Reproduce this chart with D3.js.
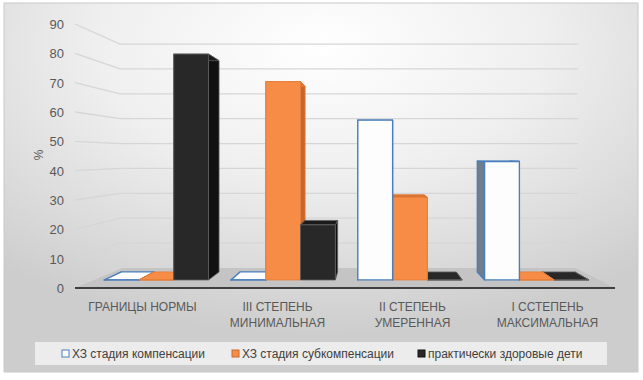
<!DOCTYPE html>
<html>
<head>
<meta charset="utf-8">
<script src="https://cdn.jsdelivr.net/npm/d3@7"></script>
<style>
	body { margin: 0; background: #fff; }
	text { font-family: "Liberation Sans", Arial, sans-serif; }
</style>
</head>
<body>
<svg id="chart" width="643" height="380"></svg>
<script>
// 3d column chart, drawn with a simple one point perspective

let categories = [["ГРАНИЦЫ НОРМЫ"], ["III СТЕПЕНЬ", "МИНИМАЛЬНАЯ"], ["II СТЕПЕНЬ", "УМЕРЕННАЯ"], ["I ССТЕПЕНЬ", "МАКСИМАЛЬНАЯ"]];
let seriesNames = ["ХЗ стадия компенсации", "ХЗ стадия субкомпенсации", "практически здоровые дети"];
let compensated = [0, 0, 58, 43];
let subcompensated = [0, 72, 30, 0];
let healthy = [82, 20, 0, 0];
let yTicks = [0, 10, 20, 30, 40, 50, 60, 70, 80, 90];

let seriesValues = [compensated, subcompensated, healthy];

let colors = [
	{front: "#fdfdfd", side: "#6f7e8f", top: "#eef3f9", stroke: "#4a7ebb"},
	{front: "#f68c46", side: "#c7682b", top: "#dc7431", stroke: "#e27b36"},
	{front: "#282828", side: "#111111", top: "#1b1b1b", stroke: "#5e5e5e"}
];

let svg = d3.select("#chart");

// background
let defs = svg.append("defs");
let grad = defs.append("radialGradient")
	.attr("id", "bg")
	.attr("cx", "50%").attr("cy", "12%")
	.attr("r", "78%");
grad.append("stop").attr("offset", "0%").attr("stop-color", "#ffffff");
grad.append("stop").attr("offset", "45%").attr("stop-color", "#efefef");
grad.append("stop").attr("offset", "100%").attr("stop-color", "#cdcdcd");

svg.append("rect")
	.attr("x", 4).attr("y", 3)
	.attr("width", 634).attr("height", 369)
	.attr("fill", "url(#bg)")
	.attr("stroke", "#c9c9c9");

// perspective
let vpX = 371, vpY = 156;
let x = d3.scaleBand()
	.domain(d3.range(categories.length))
	.range([75, 615]);
let xInner = d3.scaleBand()
	.domain(d3.range(seriesValues.length))
	.range([0, x.bandwidth()])
	.paddingOuter(0.324);
let y = d3.scaleLinear()
	.domain([0, 90])
	.range([288, 24]);
let depth = d3.scaleLinear()
	.domain([0, 1])
	.range([1, 0.848]);

function project(X, v, z){
	let s = depth(z);
	return [vpX + (X - vpX) * s, vpY + (y(v) - vpY) * s];
}

function poly(points){
	return "M" + points.map(p => p.join(",")).join("L") + "Z";
}

// grid on the side and back walls
let grid = svg.append("g");
grid.selectAll("path")
	.data(yTicks.filter(d => d > 0))
	.join("path")
	.attr("d", d => "M" + [project(75, d, 0), project(75, d, 1), project(615, d, 1)].map(p => p.join(",")).join("L"))
	.attr("fill", "none")
	.attr("stroke", "#d6d6d6")
	.attr("stroke-width", 1.3);

// floor
svg.append("path")
	.attr("d", poly([project(75, 0, 0), project(615, 0, 0), project(612, 0, 1), project(78, 0, 1)]))
	.attr("fill", "#c4c4c4");
svg.append("line")
	.attr("x1", 75).attr("x2", 615)
	.attr("y1", y(0)).attr("y2", y(0))
	.attr("stroke", "#3f3f3f")
	.attr("stroke-width", 2);

// bars
let z0 = 0.4, z1 = 0.8;
let bars = [];
categories.forEach((c, i) => {
	seriesValues.forEach((vals, k) => {
		let x0 = x(i) + xInner(k);
		bars.push({x0: x0, x1: x0 + xInner.bandwidth(), v: vals[i], k: k});
	});
});
// far from the vanishing point first
bars.sort((a, b) => Math.abs(b.x0 + b.x1 - 2 * vpX) - Math.abs(a.x0 + a.x1 - 2 * vpX));

let barG = svg.append("g");
bars.forEach(b => {
	let g = barG.append("g");
	let col = colors[b.k];
	let faces = [
		{pts: [project(b.x0, 0, z0), project(b.x0, 0, z1), project(b.x0, b.v, z1), project(b.x0, b.v, z0)], fill: col.side},
		{pts: [project(b.x1, 0, z0), project(b.x1, 0, z1), project(b.x1, b.v, z1), project(b.x1, b.v, z0)], fill: col.side},
		{pts: [project(b.x0, b.v, z0), project(b.x1, b.v, z0), project(b.x1, b.v, z1), project(b.x0, b.v, z1)], fill: b.v == 0 ? col.front : col.top},
		{pts: [project(b.x0, 0, z0), project(b.x1, 0, z0), project(b.x1, b.v, z0), project(b.x0, b.v, z0)], fill: col.front}
	];
	g.selectAll("path")
		.data(faces)
		.join("path")
		.attr("d", d => poly(d.pts))
		.attr("fill", d => d.fill)
		.attr("stroke", col.stroke)
		.attr("stroke-width", b.k == 0 ? 1.3 : 0.8)
		.attr("stroke-linejoin", "round");
});

// y axis labels
svg.append("g")
	.selectAll("text")
	.data(yTicks)
	.join("text")
	.attr("x", 64)
	.attr("y", d => y(d) + 5)
	.attr("text-anchor", "end")
	.attr("font-size", 13)
	.attr("fill", "#595959")
	.text(d => d);

svg.append("text")
	.attr("transform", "translate(43,155) rotate(-90)")
	.attr("text-anchor", "middle")
	.attr("font-size", 12)
	.attr("fill", "#595959")
	.text("%");

// category labels
let catG = svg.append("g")
	.selectAll("text")
	.data(categories)
	.join("text")
	.attr("x", (d, i) => x(i) + x.bandwidth() / 2)
	.attr("y", 311)
	.attr("text-anchor", "middle")
	.attr("font-size", 12)
	.attr("fill", "#595959");
catG.selectAll("tspan")
	.data(d => d)
	.join("tspan")
	.attr("x", function(){ return this.parentNode.getAttribute("x"); })
	.attr("dy", (d, j) => j == 0 ? 0 : 16)
	.text(d => d);

// legend
svg.append("rect")
	.attr("x", 35).attr("y", 342)
	.attr("width", 572).attr("height", 23)
	.attr("fill", "#ececec");

let legendX = [62, 232, 418];
let legend = svg.append("g")
	.selectAll("g")
	.data(seriesNames)
	.join("g")
	.attr("transform", (d, i) => "translate(" + legendX[i] + ",350)");
legend.append("rect")
	.attr("width", 7).attr("height", 7)
	.attr("fill", (d, i) => colors[i].front)
	.attr("stroke", (d, i) => i == 0 ? colors[i].stroke : colors[i].side)
	.attr("stroke-width", 1);
legend.append("text")
	.attr("x", 10)
	.attr("y", 8)
	.attr("font-size", 12)
	.attr("fill", "#404040")
	.text(d => d);
</script>
</body>
</html>
